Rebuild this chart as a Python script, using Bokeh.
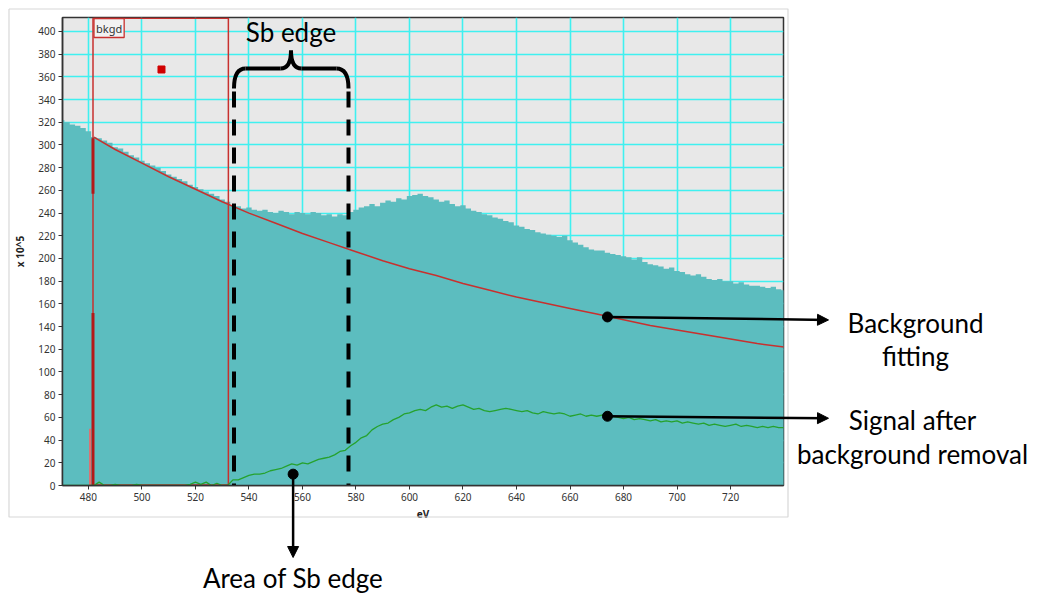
from bokeh.plotting import figure
from bokeh.models import Arrow, NormalHead, Label, Range1d, FixedTicker
from bokeh.embed import file_html
from bokeh.resources import INLINE

# ---------------- data ----------------
energy = list(range(470, 741, 2))
spectrum = [
    322, 320, 318, 317, 315, 312, 307, 306, 304, 302,
    298, 297, 294, 291, 289, 286, 284, 282, 280, 277,
    274, 272, 270, 268, 265, 263, 261, 259, 257, 255,
    252, 250, 247, 246, 244, 245, 243, 242, 243, 241,
    240, 242, 241, 239, 241, 240, 239, 241, 240, 238,
    239, 237, 239, 238, 241, 243, 245, 246, 248, 246,
    249, 251, 250, 253, 252, 255, 256, 257, 255, 254,
    252, 250, 251, 248, 246, 247, 244, 242, 241, 239,
    238, 236, 235, 233, 232, 229, 228, 226, 225, 223,
    222, 221, 220, 219, 220, 216, 214, 212, 210, 208,
    207, 207, 205, 204, 203, 202, 201, 199, 201, 197,
    195, 194, 193, 191, 192, 189, 188, 186, 185, 186,
    184, 182, 181, 182, 180, 180, 178, 179, 177, 176,
    176, 175, 174, 175, 173, 172,
]
signal = [
    0, 0, 0, 0, 0, 0, 0, 3, 0, 0,
    1, 0, 0, 0, 1, 0, 0, 0, 0, 0,
    0, 0, 0, 0, 1, 3, 1, 3, 0, 2,
    0, 0, 5, 5, 7, 9, 10, 10, 11, 13,
    14, 15, 17, 19, 18, 20, 19, 21, 23, 24,
    25, 27, 30, 31, 35, 38, 42, 44, 49, 52,
    54, 55, 58, 60, 63, 64, 66, 67, 66, 69,
    71, 69, 70, 68, 70, 71, 69, 67, 68, 66,
    65, 66, 67, 68, 67, 66, 65, 66, 64, 63,
    65, 64, 63, 64, 63, 61, 62, 63, 61, 62,
    61, 62, 62, 61, 60, 59, 60, 58, 59, 58,
    57, 58, 56, 57, 56, 57, 55, 56, 55, 54,
    55, 53, 54, 53, 52, 53, 54, 52, 53, 52,
    51, 52, 51, 52, 51, 51,
]
fit_energy = [482, 490, 500, 510, 520, 530, 540, 550, 560, 570, 580, 590, 600, 610,
              620, 630, 640, 650, 660, 670, 680, 690, 700, 710, 720, 730, 740]
fit_counts = [307, 296, 284, 272, 261, 250, 240, 231, 222, 214, 206, 198, 191, 185,
              178, 172, 166, 161, 156, 151, 146, 141, 137, 133, 129, 125, 122]
x_ticks = list(range(480, 721, 20))
y_ticks = list(range(0, 401, 20))
bkgd_window = [481.7, 532.3]
spike_low = [0, 152]
spike_high = [257, 306]
pre_spike = [480.6, 50]
edge_window = [534.4, 577.2]
marker_point = [507.3, 366.5]
# anchor points of the pointers (eV, counts)
fit_anchor = [674, 148.5]
signal_anchor = [674, 61]
area_anchor = [556.5, 10]

# ---------------- geometry ----------------
W, H = 1041, 593
X0, X1, Y0, Y1 = 470.3, 739.8, 0.0, 412.3
FL, FR, FT, FB = 62, 783, 17, 485          # frame edges in page pixels


def dx(px):
    return X0 + (px - FL) * (X1 - X0) / (FR - FL)


def dy(py):
    return Y0 + (FB - py) * (Y1 - Y0) / (FB - FT)


def px_of(x):
    return FL + (x - X0) * (FR - FL) / (X1 - X0)


def py_of(y):
    return FB - (y - Y0) * (FB - FT) / (Y1 - Y0)


TEAL = "#5CBDBF"
RED = "#C8302E"
GREEN = "#26A22E"
CYAN = "#3FF0F0"
FONT = "Lato"

# ---------------- main chart ----------------
p = figure(width=W, height=H, x_range=Range1d(X0, X1), y_range=Range1d(Y0, Y1),
           output_backend="svg", toolbar_location=None,
           min_border_left=FL, min_border_right=W - FR, min_border_top=FT,
           min_border_bottom=H - FB)
p.background_fill_color = "#E8E8E8"
p.border_fill_color = None
p.outline_line_color = "#333333"
p.outline_line_width = 1.5

p.xaxis.ticker = FixedTicker(ticks=x_ticks)
p.yaxis.ticker = FixedTicker(ticks=y_ticks)
for ax in (p.xaxis[0], p.yaxis[0]):
    ax.axis_line_color = "#333333"
    ax.axis_line_width = 1.5
    ax.major_tick_line_color = "#333333"
    ax.major_tick_out = 4
    ax.major_tick_in = 0
    ax.minor_tick_line_color = None
    ax.major_label_text_font = "Noto Sans"
    ax.major_label_text_font_size = "10px"
    ax.major_label_text_color = "#333333"
    ax.major_label_standoff = 3
    ax.axis_label_text_font = "Noto Sans"
    ax.axis_label_text_font_size = "10px"
    ax.axis_label_text_font_style = "bold"
    ax.axis_label_text_color = "#222222"
p.xaxis.axis_label = "eV"
p.yaxis.axis_label = "x 10^5"
p.xaxis.axis_label_standoff = 3
p.yaxis.axis_label_standoff = 8

p.grid.grid_line_color = CYAN
p.grid.grid_line_width = 1.6

p.varea_step(x=energy, y1=[0] * len(energy), y2=spectrum, step_mode="center",
             fill_color=TEAL)

p.quad(left=[bkgd_window[0]], right=[bkgd_window[1]], bottom=[0.5], top=[Y1 - 0.6],
       fill_color=None, line_color=RED, line_width=1.5)
p.segment(x0=[pre_spike[0]], y0=[0], x1=[pre_spike[0]], y1=[pre_spike[1]],
          line_color="#E07070", line_width=2)
p.segment(x0=[bkgd_window[0]] * 2, y0=[spike_low[0], spike_high[0]],
          x1=[bkgd_window[0]] * 2, y1=[spike_low[1], spike_high[1]],
          line_color="#B41818", line_width=3)

p.line(fit_energy, fit_counts, line_color=RED, line_width=1.5)
p.line(energy, signal, line_color=GREEN, line_width=1.3)

p.scatter(x=[marker_point[0]], y=[marker_point[1]], marker="square", size=7,
          fill_color="#D00000", line_color="#D00000")

p.add_layout(Label(x=dx(93.5), y=dy(18), text="bkgd", text_align="left", text_baseline="top",
                   text_font="Noto Sans", text_font_size="11px", text_color="#333333",
                   border_line_color=RED, border_line_width=1.3,
                   background_fill_color="#F2F2F2", padding=2))

# Sb edge bracket
top_dash = dy(91)
p.segment(x0=edge_window, y0=[top_dash, top_dash], x1=edge_window, y1=[0, 0],
          line_color="black", line_width=4, line_dash="16 12")
xl, xr, xc = px_of(edge_window[0]), px_of(edge_window[1]), 290.5
p.quadratic(x0=[dx(xl), dx(280), dx(xc), dx(336)], y0=[dy(88), dy(68), dy(50), dy(68)],
            x1=[dx(245), dx(xc), dx(301), dx(xr)], y1=[dy(68), dy(50), dy(68), dy(88)],
            cx=[dx(xl), dx(xc), dx(xc), dx(xr)], cy=[dy(68)] * 4,
            line_color="black", line_width=4)
p.multi_line(xs=[[dx(245), dx(280)], [dx(301), dx(336)]], ys=[[dy(68), dy(68)]] * 2,
             line_color="black", line_width=4)
p.add_layout(Label(x=dx(xc), y=dy(31), text="Sb edge", text_align="center",
                   text_baseline="middle", text_font=FONT, text_font_size="26px",
                   text_color="black"))

# ---------------- overlay for the slide annotations ----------------
q = figure(width=W, height=H, x_range=Range1d(0, W), y_range=Range1d(H, 0),
           output_backend="svg", toolbar_location=None, x_axis_type=None,
           y_axis_type=None, min_border=0,
           styles={"position": "absolute", "left": "0px", "top": "0px",
                   "width": f"{W}px", "height": f"{H}px"})
q.outline_line_color = None
q.background_fill_color = None
q.border_fill_color = None

# light frame of the screenshot
q.line([8.5, 787.5, 787.5, 8.5, 8.5], [8.5, 8.5, 516.5, 516.5, 8.5],
       line_color="#D8D8D8", line_width=1.2)

anchors = [fit_anchor, signal_anchor, area_anchor]
ax_px = [px_of(a[0]) for a in anchors]
ay_px = [py_of(a[1]) for a in anchors]
ends = [(828, ay_px[0] + 3), (828, ay_px[1] + 2), (ax_px[2], 557)]
for sx, sy, (ex, ey) in zip(ax_px, ay_px, ends):
    q.add_layout(Arrow(x_start=sx, y_start=sy, x_end=ex, y_end=ey,
                       line_color="black", line_width=2.5,
                       end=NormalHead(size=11, fill_color="black", line_color="black")))
q.scatter(x=ax_px, y=ay_px, size=10, fill_color="black", line_color="black")

texts = [("Background", 915, 322), ("fitting", 915, 355),
         ("Signal after", 912, 419), ("background removal", 912, 453),
         ("Area of Sb edge", ax_px[2], 577)]
for t, tx, ty in texts:
    q.add_layout(Label(x=tx, y=ty, text=t, text_align="center",
                       text_baseline="middle", text_font=FONT, text_font_size="26px",
                       text_color="black"))

open("out.html", "w").write(file_html([p, q], INLINE))
